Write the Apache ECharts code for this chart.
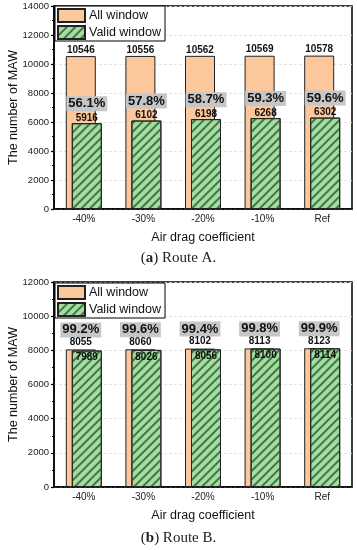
<!DOCTYPE html>
<html>
<head>
<meta charset="utf-8">
<script src="https://cdn.jsdelivr.net/npm/echarts@6/dist/echarts.min.js"></script>
<style>
html,body{margin:0;padding:0;background:#fff;}
#c{width:357px;height:550px;}
</style>
</head>
<body>
<div id="c"></div>
<script>
const categories = ['-40%', '-30%', '-20%', '-10%', 'Ref'];
const allA = [10546, 10556, 10562, 10569, 10578];
const validA = [5916, 6102, 6198, 6268, 6302];
const pctA = ['56.1%', '57.8%', '58.7%', '59.3%', '59.6%'];
const allB = [8055, 8060, 8102, 8113, 8123];
const validB = [7989, 8026, 8056, 8100, 8114];
const pctB = ['99.2%', '99.6%', '99.4%', '99.8%', '99.9%'];
const yTicksA = {min: 0, max: 14000, interval: 2000};
const yTicksB = {min: 0, max: 12000, interval: 2000};

const FONT = 'Liberation Sans';
const ORANGE = '#fcc79a';
const GREEN = '#a7dba1';
const HATCH = '#3a7a44';

const chart = echarts.init(document.getElementById('c'), null, {renderer: 'canvas'});

const decal = {
  symbol: 'rect', symbolSize: 1,
  dashArrayX: [1, 0], dashArrayY: [1.1, 3.6],
  rotation: -Math.PI / 4, color: HATCH
};

function grid(top, height) {
  return {left: 54, width: 298, top: top, height: height, show: true,
    borderColor: '#000', borderWidth: 1.5, backgroundColor: 'transparent',
    containLabel: false, outerBoundsMode: 'none'};
}
function xAxis(gi) {
  return {type: 'category', gridIndex: gi, data: categories,
    name: 'Air drag coefficient', nameLocation: 'middle', nameGap: 22,
    nameTextStyle: {fontFamily: FONT, fontSize: 12.5, color: '#111'},
    axisLine: {lineStyle: {color: '#000', width: 1.5}},
    axisTick: {inside: true, alignWithLabel: true, length: 3, lineStyle: {color: '#000', width: 1.2}},
    axisLabel: {fontFamily: FONT, fontSize: 10, color: '#222', margin: 5},
    splitLine: {show: false}};
}
function yAxis(gi, t) {
  return {type: 'value', gridIndex: gi, min: t.min, max: t.max, interval: t.interval,
    name: 'The number of MAW', nameLocation: 'middle', nameGap: 34, nameMoveOverlap: false,
    nameTextStyle: {fontFamily: FONT, fontSize: 12.5, color: '#111'},
    axisLine: {show: true, lineStyle: {color: '#000', width: 1.5}},
    axisTick: {show: true, length: 3, lineStyle: {color: '#000', width: 1.2}},
    minorTick: {show: true, splitNumber: 2, length: 2, lineStyle: {color: '#000', width: 1}},
    axisLabel: {fontFamily: FONT, fontSize: 9.5, color: '#222', margin: 5, formatter: v => String(v)},
    splitLine: {show: true, lineStyle: {color: '#dcdcdc', type: [3, 2], width: 0.8}}};
}
const pRich = {
  p: {fontFamily: FONT, fontSize: 13, fontWeight: 'bold', color: '#111',
      backgroundColor: '#c6c6c6', padding: [1, 2, 1, 2], lineHeight: 13},
  v: {fontFamily: FONT, fontSize: 10, fontWeight: 'bold', color: '#111', lineHeight: 12},
  v2: {fontFamily: FONT, fontSize: 10, fontWeight: 'bold', color: '#111', lineHeight: 12, padding: [4, 0, 0, 0]}
};

function legend(top) {
  return {orient: 'vertical', left: 55, top: top, data: ['All window', 'Valid window'],
    icon: 'rect', itemWidth: 27, itemHeight: 13, itemGap: 2,
    padding: [2, 4, 1, 2], borderColor: '#000', borderWidth: 1, backgroundColor: '#fff',
    textStyle: {fontFamily: FONT, fontSize: 12.5, color: '#111', padding: [0, 0, 0, -1]}};
}

const option = {
  animation: false,
  backgroundColor: '#fff',
  title: [
    {text: '({b|a}) Route A.', left: 'center', top: 246,
     textStyle: {fontFamily: 'Liberation Serif', fontSize: 15, fontWeight: 'normal', color: '#222',
       rich: {b: {fontFamily: 'Liberation Serif', fontSize: 15, fontWeight: 'bold', color: '#222'}}}},
    {text: '({b|b}) Route B.', left: 'center', top: 526,
     textStyle: {fontFamily: 'Liberation Serif', fontSize: 15, fontWeight: 'normal', color: '#222',
       rich: {b: {fontFamily: 'Liberation Serif', fontSize: 15, fontWeight: 'bold', color: '#222'}}}}
  ],
  legend: [legend(6), legend(283)],
  grid: [grid(6, 203), grid(282, 205)],
  xAxis: [xAxis(0), xAxis(1)],
  yAxis: [yAxis(0, yTicksA), yAxis(1, yTicksB)],
  series: [
    {name: 'All window', type: 'bar', xAxisIndex: 0, yAxisIndex: 0, data: allA,
     barWidth: 30, barGap: '-80%',
     itemStyle: {color: ORANGE, borderColor: '#222', borderWidth: 1},
     label: {show: true, position: 'top', distance: 0, formatter: '{v|{c}}', rich: pRich}},
    {name: 'Valid window', type: 'bar', xAxisIndex: 0, yAxisIndex: 0, data: validA,
     barWidth: 30, barGap: '-80%',
     itemStyle: {color: GREEN, borderColor: '#222', borderWidth: 1, decal: decal},
     label: {show: true, position: 'top', distance: 1,
       formatter: p => '{p|' + pctA[p.dataIndex] + '}\n{v2|' + p.value + '}', rich: pRich}},
    {name: 'All window', type: 'bar', xAxisIndex: 1, yAxisIndex: 1, data: allB,
     barWidth: 30, barGap: '-80%',
     itemStyle: {color: ORANGE, borderColor: '#222', borderWidth: 1},
     label: {show: true, position: 'top', distance: 1,
       formatter: p => '{p|' + pctB[p.dataIndex] + '}\n{v|' + p.value + '}', rich: pRich}},
    {name: 'Valid window', type: 'bar', xAxisIndex: 1, yAxisIndex: 1, data: validB,
     barWidth: 30, barGap: '-80%',
     itemStyle: {color: GREEN, borderColor: '#222', borderWidth: 1, decal: decal},
     label: {show: true, position: 'insideTop', distance: 1, formatter: '{v|{c}}', rich: pRich}}
  ]
};
chart.setOption(option);
</script>
</body>
</html>
